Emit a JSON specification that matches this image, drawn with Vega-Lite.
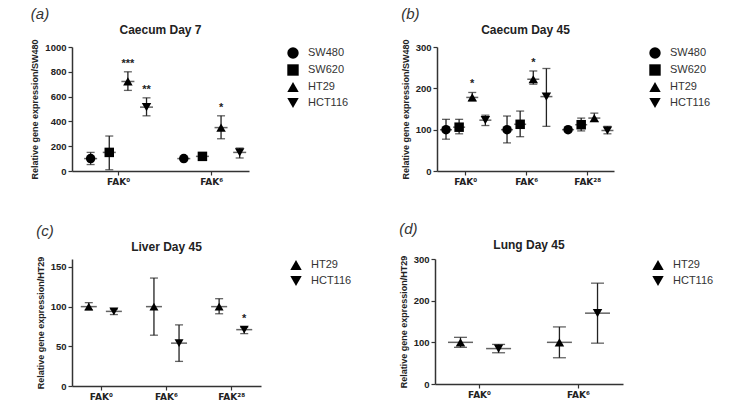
{
  "$schema": "https://vega.github.io/schema/vega-lite/v6.json",
  "background": "white",
  "padding": {"left": 30, "top": 6, "right": 0, "bottom": 0},
  "spacing": 36,
  "datasets": {
    "caecum7": [
      {"cat": "FAK⁰", "line": "SW480", "mean": 100, "lo": 52, "hi": 150, "sig": ""},
      {"cat": "FAK⁰", "line": "SW620", "mean": 150, "lo": 10, "hi": 282, "sig": ""},
      {"cat": "FAK⁰", "line": "HT29", "mean": 722, "lo": 650, "hi": 800, "sig": "***"},
      {"cat": "FAK⁰", "line": "HCT116", "mean": 515, "lo": 445, "hi": 590, "sig": "**"},
      {"cat": "FAK⁶", "line": "SW480", "mean": 100, "lo": 92, "hi": 108, "sig": ""},
      {"cat": "FAK⁶", "line": "SW620", "mean": 118, "lo": 108, "hi": 128, "sig": ""},
      {"cat": "FAK⁶", "line": "HT29", "mean": 350, "lo": 260, "hi": 445, "sig": "*"},
      {"cat": "FAK⁶", "line": "HCT116", "mean": 150, "lo": 105, "hi": 185, "sig": ""}
    ],
    "caecum45": [
      {"cat": "FAK⁰", "line": "SW480", "mean": 100, "lo": 77, "hi": 125, "sig": ""},
      {"cat": "FAK⁰", "line": "SW620", "mean": 106, "lo": 90, "hi": 125, "sig": ""},
      {"cat": "FAK⁰", "line": "HT29", "mean": 178, "lo": 170, "hi": 190, "sig": "*"},
      {"cat": "FAK⁰", "line": "HCT116", "mean": 123, "lo": 110, "hi": 135, "sig": ""},
      {"cat": "FAK⁶", "line": "SW480", "mean": 100, "lo": 68, "hi": 133, "sig": ""},
      {"cat": "FAK⁶", "line": "SW620", "mean": 113, "lo": 83, "hi": 145, "sig": ""},
      {"cat": "FAK⁶", "line": "HT29", "mean": 222, "lo": 210, "hi": 242, "sig": "*"},
      {"cat": "FAK⁶", "line": "HCT116", "mean": 180, "lo": 108, "hi": 248, "sig": ""},
      {"cat": "FAK²⁸", "line": "SW480", "mean": 100, "lo": 97, "hi": 103, "sig": ""},
      {"cat": "FAK²⁸", "line": "SW620", "mean": 112, "lo": 97, "hi": 128, "sig": ""},
      {"cat": "FAK²⁸", "line": "HT29", "mean": 128, "lo": 120, "hi": 140, "sig": ""},
      {"cat": "FAK²⁸", "line": "HCT116", "mean": 98, "lo": 90, "hi": 108, "sig": ""}
    ],
    "liver45": [
      {"cat": "FAK⁰", "line": "HT29", "mean": 100, "lo": 96, "hi": 105, "sig": ""},
      {"cat": "FAK⁰", "line": "HCT116", "mean": 94, "lo": 90, "hi": 97, "sig": ""},
      {"cat": "FAK⁶", "line": "HT29", "mean": 100, "lo": 64, "hi": 136, "sig": ""},
      {"cat": "FAK⁶", "line": "HCT116", "mean": 54, "lo": 31, "hi": 77, "sig": ""},
      {"cat": "FAK²⁸", "line": "HT29", "mean": 100, "lo": 91, "hi": 110, "sig": ""},
      {"cat": "FAK²⁸", "line": "HCT116", "mean": 71, "lo": 66, "hi": 74, "sig": "*"}
    ],
    "lung45": [
      {"cat": "FAK⁰", "line": "HT29", "mean": 100, "lo": 88, "hi": 112, "sig": ""},
      {"cat": "FAK⁰", "line": "HCT116", "mean": 85, "lo": 75, "hi": 95, "sig": ""},
      {"cat": "FAK⁶", "line": "HT29", "mean": 100, "lo": 63, "hi": 137, "sig": ""},
      {"cat": "FAK⁶", "line": "HCT116", "mean": 170, "lo": 98, "hi": 242, "sig": ""}
    ]
  },
  "config": {
    "font": "Liberation Sans",
    "view": {"stroke": null},
    "title": {"font": "Liberation Sans", "fontSize": 12, "fontWeight": "bold", "color": "#222", "offset": 2},
    "axis": {
      "domainColor": "#333", "domainWidth": 1.5, "tickColor": "#333", "tickWidth": 1.2,
      "labelFont": "Liberation Sans", "labelFontWeight": "bold", "labelColor": "#222", "labelFontSize": 9.5,
      "titleFont": "Liberation Sans", "titleFontWeight": "bold", "titleColor": "#222", "titleFontSize": 9,
      "grid": false, "tickSize": 4, "labelOverlap": false, "labelFlush": false
    },
    "axisY": {"format": "d", "titlePadding": 5},
    "axisX": {"title": null, "labelAngle": 0, "labelFont": "DejaVu Sans", "labelFontSize": 9, "labelPadding": 2, "ticks": true},
    "legend": {
      "title": null, "labelFont": "Liberation Sans", "labelFontSize": 11, "labelColor": "#333",
      "symbolFillColor": "black", "symbolStrokeColor": "black", "symbolSize": 130, "symbolStrokeWidth": 0,
      "rowPadding": 5, "offset": 38, "labelOffset": 9
    }
  },
  "resolve": {"scale": {"x": "independent", "y": "independent", "xOffset": "independent", "shape": "independent"}, "legend": {"shape": "independent"}},
  "vconcat": [
    {
      "spacing": 52,
      "resolve": {"scale": {"x": "independent", "y": "independent", "xOffset": "independent", "shape": "independent"}, "legend": {"shape": "independent"}},
      "hconcat": [
        {
          "title": {"text": "(a)", "anchor": "start", "fontSize": 15, "fontWeight": "normal", "fontStyle": "italic", "color": "#333", "offset": 2},
          "vconcat": [
            {
              "title": "Caecum Day 7",
              "width": 177, "height": 124,
              "data": {"name": "caecum7"},
              "encoding": {
                "x": {"field": "cat", "type": "nominal", "sort": ["FAK⁰", "FAK⁶"], "scale": {"paddingInner": 0.2, "paddingOuter": 0.05, "align": 1}},
                "xOffset": {"field": "line", "type": "nominal", "scale": {"domain": ["SW480", "SW620", "HT29", "HCT116"], "paddingInner": 0, "paddingOuter": 0}}
              },
              "layer": [
                {"mark": {"type": "rule", "color": "#222", "strokeWidth": 1.3},
                 "encoding": {"y": {"field": "lo", "type": "quantitative", "scale": {"domain": [0, 1000]}, "axis": {"title": "Relative gene expression/SW480", "values": [0, 200, 400, 600, 800, 1000]}}, "y2": {"field": "hi"}}},
                {"mark": {"type": "tick", "color": "#222", "size": 8, "thickness": 1.3}, "encoding": {"y": {"field": "lo", "type": "quantitative", "axis": {"title": "Relative gene expression/SW480", "values": [0, 200, 400, 600, 800, 1000]}}}},
                {"mark": {"type": "tick", "color": "#222", "size": 8, "thickness": 1.3}, "encoding": {"y": {"field": "hi", "type": "quantitative", "axis": {"title": "Relative gene expression/SW480", "values": [0, 200, 400, 600, 800, 1000]}}}},
                {"mark": {"type": "tick", "color": "#222", "size": 13, "thickness": 1.5}, "encoding": {"y": {"field": "mean", "type": "quantitative", "axis": {"title": "Relative gene expression/SW480", "values": [0, 200, 400, 600, 800, 1000]}}}},
                {"mark": {"type": "point", "filled": true, "color": "black", "opacity": 1, "size": 90},
                 "encoding": {"y": {"field": "mean", "type": "quantitative", "axis": {"title": "Relative gene expression/SW480", "values": [0, 200, 400, 600, 800, 1000]}},
                   "shape": {"field": "line", "type": "nominal", "legend": {"offset": 38}, "scale": {"domain": ["SW480", "SW620", "HT29", "HCT116"], "range": ["circle", "square", "triangle-up", "triangle-down"]}}}},
                {"mark": {"type": "text", "color": "#222", "fontSize": 11, "fontWeight": "bold", "dy": -8},
                 "encoding": {"y": {"field": "hi", "type": "quantitative", "axis": {"title": "Relative gene expression/SW480", "values": [0, 200, 400, 600, 800, 1000]}}, "text": {"field": "sig"}}}
              ]
            }
          ]
        },
        {
          "title": {"text": "(b)", "anchor": "start", "fontSize": 15, "fontWeight": "normal", "fontStyle": "italic", "color": "#333", "offset": 2},
          "vconcat": [
            {
              "title": "Caecum Day 45",
              "width": 177, "height": 124,
              "data": {"name": "caecum45"},
              "encoding": {
                "x": {"field": "cat", "type": "nominal", "sort": ["FAK⁰", "FAK⁶", "FAK²⁸"], "scale": {"paddingInner": 0.14, "paddingOuter": 0.02, "align": 1}},
                "xOffset": {"field": "line", "type": "nominal", "scale": {"domain": ["SW480", "SW620", "HT29", "HCT116"], "paddingInner": 0, "paddingOuter": 0}}
              },
              "layer": [
                {"mark": {"type": "rule", "color": "#222", "strokeWidth": 1.3},
                 "encoding": {"y": {"field": "lo", "type": "quantitative", "scale": {"domain": [0, 300]}, "axis": {"title": "Relative gene expression/SW480", "values": [0, 100, 200, 300]}}, "y2": {"field": "hi"}}},
                {"mark": {"type": "tick", "color": "#222", "size": 8, "thickness": 1.3}, "encoding": {"y": {"field": "lo", "type": "quantitative", "axis": {"title": "Relative gene expression/SW480", "values": [0, 100, 200, 300]}}}},
                {"mark": {"type": "tick", "color": "#222", "size": 8, "thickness": 1.3}, "encoding": {"y": {"field": "hi", "type": "quantitative", "axis": {"title": "Relative gene expression/SW480", "values": [0, 100, 200, 300]}}}},
                {"mark": {"type": "tick", "color": "#222", "size": 12, "thickness": 1.5}, "encoding": {"y": {"field": "mean", "type": "quantitative", "axis": {"title": "Relative gene expression/SW480", "values": [0, 100, 200, 300]}}}},
                {"mark": {"type": "point", "filled": true, "color": "black", "opacity": 1, "size": 90},
                 "encoding": {"y": {"field": "mean", "type": "quantitative", "axis": {"title": "Relative gene expression/SW480", "values": [0, 100, 200, 300]}},
                   "shape": {"field": "line", "type": "nominal", "legend": {"offset": 35}, "scale": {"domain": ["SW480", "SW620", "HT29", "HCT116"], "range": ["circle", "square", "triangle-up", "triangle-down"]}}}},
                {"mark": {"type": "text", "color": "#222", "fontSize": 11, "fontWeight": "bold", "dy": -8},
                 "encoding": {"y": {"field": "hi", "type": "quantitative", "axis": {"title": "Relative gene expression/SW480", "values": [0, 100, 200, 300]}}, "text": {"field": "sig"}}}
              ]
            }
          ]
        }
      ]
    },
    {
      "spacing": 47,
      "resolve": {"scale": {"x": "independent", "y": "independent", "xOffset": "independent", "shape": "independent"}, "legend": {"shape": "independent"}},
      "hconcat": [
        {
          "title": {"text": "(c)", "anchor": "start", "fontSize": 15, "fontWeight": "normal", "fontStyle": "italic", "color": "#333", "offset": 2},
          "vconcat": [
            {
              "title": "Liver Day 45",
              "width": 189, "height": 127,
              "data": {"name": "liver45"},
              "encoding": {
                "x": {"field": "cat", "type": "nominal", "sort": ["FAK⁰", "FAK⁶", "FAK²⁸"], "scale": {"paddingInner": 0.23, "paddingOuter": 0.065}},
                "xOffset": {"field": "line", "type": "nominal", "scale": {"domain": ["HT29", "HCT116"], "paddingInner": 0, "paddingOuter": 0}}
              },
              "layer": [
                {"mark": {"type": "rule", "color": "#222", "strokeWidth": 1.3},
                 "encoding": {"y": {"field": "lo", "type": "quantitative", "scale": {"domain": [0, 150]}, "axis": {"title": "Relative gene expression/HT29", "values": [0, 50, 100, 150]}}, "y2": {"field": "hi"}}},
                {"mark": {"type": "tick", "color": "#222", "size": 8, "thickness": 1.3}, "encoding": {"y": {"field": "lo", "type": "quantitative", "axis": {"title": "Relative gene expression/HT29", "values": [0, 50, 100, 150]}}}},
                {"mark": {"type": "tick", "color": "#222", "size": 8, "thickness": 1.3}, "encoding": {"y": {"field": "hi", "type": "quantitative", "axis": {"title": "Relative gene expression/HT29", "values": [0, 50, 100, 150]}}}},
                {"mark": {"type": "tick", "color": "#222", "size": 16, "thickness": 1.5}, "encoding": {"y": {"field": "mean", "type": "quantitative", "axis": {"title": "Relative gene expression/HT29", "values": [0, 50, 100, 150]}}}},
                {"mark": {"type": "point", "filled": true, "color": "black", "opacity": 1, "size": 80},
                 "encoding": {"y": {"field": "mean", "type": "quantitative", "axis": {"title": "Relative gene expression/HT29", "values": [0, 50, 100, 150]}},
                   "shape": {"field": "line", "type": "nominal", "legend": {"offset": 29}, "scale": {"domain": ["HT29", "HCT116"], "range": ["triangle-up", "triangle-down"]}}}},
                {"mark": {"type": "text", "color": "#222", "fontSize": 11, "fontWeight": "bold", "dy": -8},
                 "encoding": {"y": {"field": "hi", "type": "quantitative", "axis": {"title": "Relative gene expression/HT29", "values": [0, 50, 100, 150]}}, "text": {"field": "sig"}}}
              ]
            }
          ]
        },
        {
          "title": {"text": "(d)", "anchor": "start", "fontSize": 15, "fontWeight": "normal", "fontStyle": "italic", "color": "#333", "offset": 2},
          "vconcat": [
            {
              "title": "Lung Day 45",
              "width": 188, "height": 125,
              "data": {"name": "lung45"},
              "encoding": {
                "x": {"field": "cat", "type": "nominal", "sort": ["FAK⁰", "FAK⁶"], "scale": {"paddingInner": 0.23, "paddingOuter": 0.065}},
                "xOffset": {"field": "line", "type": "nominal", "scale": {"domain": ["HT29", "HCT116"], "paddingInner": 0, "paddingOuter": 0}}
              },
              "layer": [
                {"mark": {"type": "rule", "color": "#222", "strokeWidth": 1.3},
                 "encoding": {"y": {"field": "lo", "type": "quantitative", "scale": {"domain": [0, 300]}, "axis": {"title": "Relative gene expression/HT29", "values": [0, 100, 200, 300]}}, "y2": {"field": "hi"}}},
                {"mark": {"type": "tick", "color": "#222", "size": 13, "thickness": 1.3}, "encoding": {"y": {"field": "lo", "type": "quantitative", "axis": {"title": "Relative gene expression/HT29", "values": [0, 100, 200, 300]}}}},
                {"mark": {"type": "tick", "color": "#222", "size": 13, "thickness": 1.3}, "encoding": {"y": {"field": "hi", "type": "quantitative", "axis": {"title": "Relative gene expression/HT29", "values": [0, 100, 200, 300]}}}},
                {"mark": {"type": "tick", "color": "#222", "size": 25, "thickness": 1.5}, "encoding": {"y": {"field": "mean", "type": "quantitative", "axis": {"title": "Relative gene expression/HT29", "values": [0, 100, 200, 300]}}}},
                {"mark": {"type": "point", "filled": true, "color": "black", "opacity": 1, "size": 90},
                 "encoding": {"y": {"field": "mean", "type": "quantitative", "axis": {"title": "Relative gene expression/HT29", "values": [0, 100, 200, 300]}},
                   "shape": {"field": "line", "type": "nominal", "legend": {"offset": 29}, "scale": {"domain": ["HT29", "HCT116"], "range": ["triangle-up", "triangle-down"]}}}},
                {"mark": {"type": "text", "color": "#222", "fontSize": 11, "fontWeight": "bold", "dy": -8},
                 "encoding": {"y": {"field": "hi", "type": "quantitative", "axis": {"title": "Relative gene expression/HT29", "values": [0, 100, 200, 300]}}, "text": {"field": "sig"}}}
              ]
            }
          ]
        }
      ]
    }
  ]
}
